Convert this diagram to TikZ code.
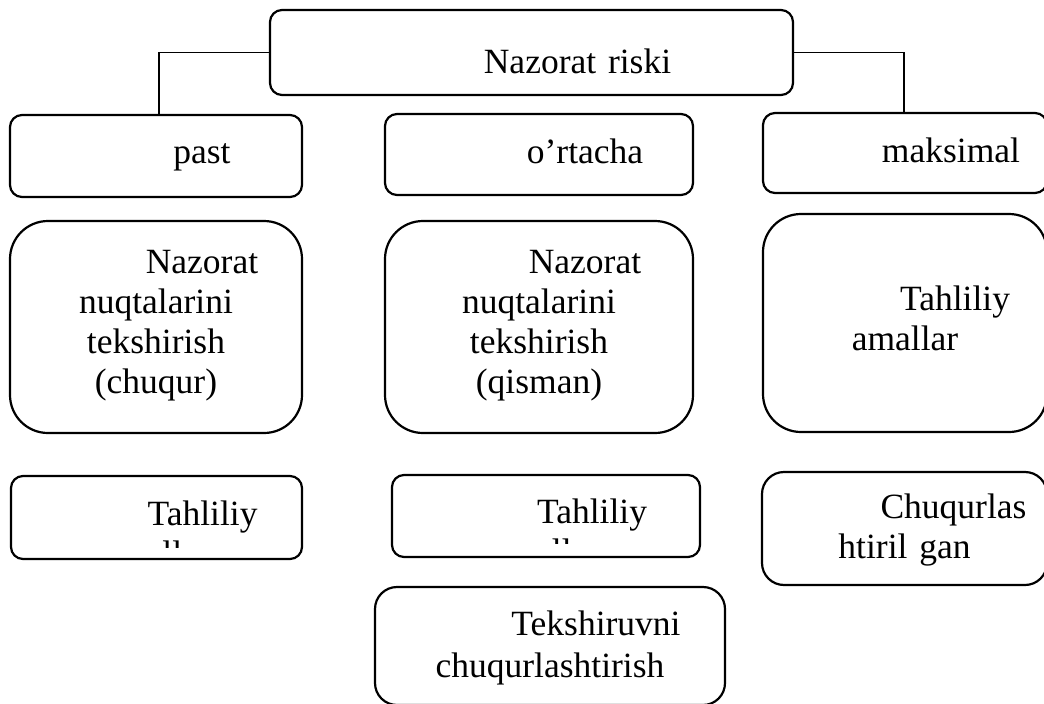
\documentclass[tikz,border=0pt]{standalone}
\usepackage{fontspec}
\setmainfont{Liberation Serif}
\begin{document}
\begin{tikzpicture}[x=1pt,y=-1pt,
  box/.style={draw, line width=2.2pt, rounded corners=#1, inner sep=0pt, rectangle},
  box/.default=12pt,
  txt/.style={anchor=base, inner sep=0pt, text width=300pt, align=center,
    font=\fontsize{35.5}{40}\selectfont},
  link/.style={draw, line width=1.5pt}]
\useasboundingbox (0,0) rectangle (1044,704);
\fill[white] (0,0) rectangle (1044,704);
% boxes
\node[box, minimum width=523pt, minimum height=85pt] (top) at (531.5,52.5) {};
\node[box, minimum width=292pt, minimum height=82pt] (past) at (156,156) {};
\node[box, minimum width=308pt, minimum height=81pt] (ort) at (539,154.5) {};
\node[box, minimum width=284pt, minimum height=80pt] (maks) at (905,153) {};
\node[box=38pt, minimum width=292pt, minimum height=212pt] (bigL) at (156,327) {};
\node[box=38pt, minimum width=308pt, minimum height=212pt] (bigM) at (539,327) {};
\node[box=38pt, minimum width=284pt, minimum height=218pt] (bigR) at (905,323) {};
\node[box, minimum width=291pt, minimum height=83pt] (botL) at (156.5,517.5) {};
\node[box, minimum width=308pt, minimum height=82pt] (botM) at (546,516) {};
\node[box=22pt, minimum width=285pt, minimum height=113pt] (botR) at (904.5,528.5) {};
\node[box=22pt, minimum width=350pt, minimum height=118pt] (botC) at (550,646) {};
% connectors
\draw[link] (top.west) -| ([xshift=3pt]past.north);
\draw[link] (top.east) -| ([xshift=-1pt]maks.north);
% texts
\node[txt] (ttop) at (531.5,73) {\hspace*{92pt}Nazorat riski};
\node[txt] (tpast) at (156,163) {\hspace*{92pt}past};
\node[txt] (tort) at (539,163) {\hspace*{92pt}o’rtacha};
\node[txt] (tmaks) at (905,162) {\hspace*{92pt}maksimal};
\node[txt] (tbigL) at (156,273) {\hspace*{92pt}Nazorat\\nuqtalarini\\tekshirish\\(chuqur)};
\node[txt] (tbigM) at (539,273) {\hspace*{92pt}Nazorat\\nuqtalarini\\tekshirish\\(qisman)};
\node[txt] (tbigR) at (905,310) {\hspace*{100pt}Tahliliy\\amallar};
\begin{scope}
  \clip (11,476) rectangle (302,547);
  \node[txt] (tbotL) at (156.5,525) {\hspace*{92pt}Tahliliy\\amallar};
\end{scope}
\begin{scope}
  \clip (392,475) rectangle (700,543);
  \node[txt] (tbotM) at (546,523) {\hspace*{92pt}Tahliliy\\amallar};
\end{scope}
\node[txt] (tbotR) at (904.5,518) {\hspace*{98pt}Chuqurlas\\htiril gan};
\node[txt] (tbotC) at (550,635) {\hspace*{92pt}Tekshiruvni\\[2pt]chuqurlashtirish};
\end{tikzpicture}
\end{document}
